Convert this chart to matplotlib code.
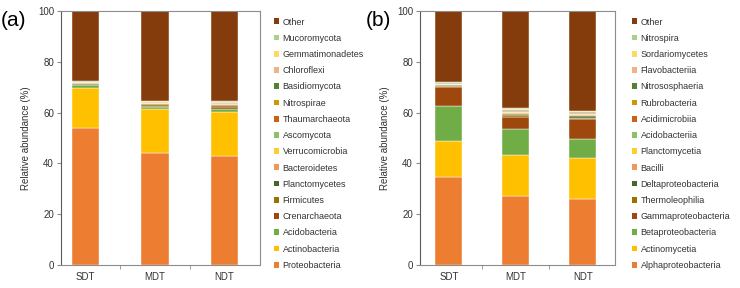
import numpy as np
import matplotlib
matplotlib.use("Agg")
import matplotlib.pyplot as plt
from matplotlib.patches import Patch

plt.rcParams["font.family"] = ["Liberation Sans", "DejaVu Sans"]
plt.rcParams["font.size"] = 7

# ------------------------------------------------------------
# data
# ------------------------------------------------------------
sites = ["SDT", "MDT", "NDT"]

phyla = [
    "Proteobacteria", "Actinobacteria", "Acidobacteria", "Crenarchaeota",
    "Firmicutes", "Planctomycetes", "Bacteroidetes", "Verrucomicrobia",
    "Ascomycota", "Thaumarchaeota", "Nitrospirae", "Basidiomycota",
    "Chloroflexi", "Gemmatimonadetes", "Mucoromycota", "Other",
]
phylum_sdt = [53.8, 15.8, 1.3, 0.2, 0.4, 0.1, 0.2, 0.1, 0.1, 0.05, 0.15, 0.05, 0.1, 0.2, 0.05, 27.55]
phylum_mdt = [44.0, 17.4, 0.9, 0.4, 0.5, 0.2, 0.2, 0.1, 0.1, 0.1, 0.2, 0.05, 0.1, 0.2, 0.05, 35.5]
phylum_ndt = [42.9, 17.2, 1.3, 0.8, 0.6, 0.3, 0.2, 0.1, 0.1, 0.1, 0.2, 0.05, 0.2, 0.3, 0.05, 35.6]

classes = [
    "Alphaproteobacteria", "Actinomycetia", "Betaproteobacteria", "Gammaproteobacteria",
    "Thermoleophilia", "Deltaproteobacteria", "Bacilli", "Planctomycetia",
    "Acidobacteriia", "Acidimicrobiia", "Rubrobacteria", "Nitrososphaeria",
    "Flavobacteriia", "Sordariomycetes", "Nitrospira", "Other",
]
class_sdt = [34.8, 14.1, 13.7, 7.5, 0.3, 0.3, 0.2, 0.2, 0.1, 0.1, 0.1, 0.1, 0.1, 0.2, 0.1, 28.1]
class_mdt = [27.2, 16.1, 10.1, 5.0, 0.6, 0.5, 0.3, 0.3, 0.2, 0.2, 0.2, 0.2, 0.3, 0.4, 0.1, 38.3]
class_ndt = [25.9, 16.1, 7.5, 7.9, 0.6, 0.7, 0.5, 0.2, 0.2, 0.2, 0.1, 0.2, 0.3, 0.2, 0.1, 39.3]

colors = [
    "#ED7D31", "#FFC000", "#70AD47", "#9E480E",
    "#997300", "#43682B", "#F1975A", "#FFCD33",
    "#8CC168", "#D26012", "#CC9A00", "#548235",
    "#F4B183", "#FFD966", "#A9D18E", "#843C0C",
]

text_col = "#333333"
spine_col = "#8C8C8C"


def stacked(ax, names, table, xlim, width):
    x = np.arange(len(sites))
    bottom = np.zeros(len(sites))
    for i, name in enumerate(names):
        vals = np.array([row[i] for row in table])
        ax.bar(x, vals, width, bottom=bottom, color=colors[i],
               edgecolor="white", linewidth=0.3)
        bottom += vals

    ax.set_xlim(*xlim)
    ax.set_ylim(0, 100)
    ax.set_yticks(range(0, 101, 20))
    ax.set_xticks(x)
    ax.set_xticklabels(sites)
    ax.set_xticks([0.5, 1.5], minor=True)
    ax.tick_params(axis="x", which="major", length=0, pad=5, colors=text_col)
    ax.tick_params(axis="x", which="minor", length=3, color=spine_col)
    ax.tick_params(axis="y", length=3, color=spine_col, colors=text_col, pad=2)
    for s in ax.spines.values():
        s.set_color(spine_col)
        s.set_linewidth(0.8)
    ax.spines["left"].set_color("#595959")
    ax.set_ylabel("Relative abundance (%)", color=text_col, labelpad=5)

    handles = [Patch(facecolor=colors[i], label=names[i]) for i in range(len(names))][::-1]
    return handles


fig = plt.figure(figsize=(7.4, 2.88), dpi=100)

legend_kw = dict(loc="upper left", bbox_transform=fig.transFigure, frameon=False,
                 handlelength=0.6, handleheight=0.6, handletextpad=0.4,
                 labelspacing=0.8, borderpad=0, labelcolor=text_col, fontsize=6.5)

ax1 = fig.add_axes([61 / 740, 23 / 288, 199 / 740, 254 / 288])
h1 = stacked(ax1, phyla, [phylum_sdt, phylum_mdt, phylum_ndt], (-0.35, 2.51), 0.39)
ax1.legend(handles=h1, bbox_to_anchor=(269 / 740, 1 - 13 / 288), **legend_kw)

ax2 = fig.add_axes([420 / 740, 23 / 288, 195 / 740, 254 / 288])
h2 = stacked(ax2, classes, [class_sdt, class_mdt, class_ndt], (-0.43, 2.48), 0.40)
ax2.legend(handles=h2, bbox_to_anchor=(627 / 740, 1 - 13 / 288), **legend_kw)

fig.text(1 / 740, 1 - 20 / 288, "(a)", fontsize=15, color="black", va="center")
fig.text(366 / 740, 1 - 20 / 288, "(b)", fontsize=15, color="black", va="center")

fig.savefig("out.png", dpi=100)
